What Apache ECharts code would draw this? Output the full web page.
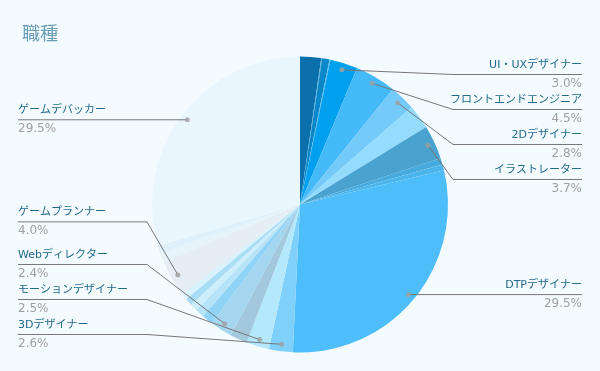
<!DOCTYPE html>
<html><head><meta charset="utf-8">
<script src="https://cdn.jsdelivr.net/npm/echarts@6/dist/echarts.min.js"></script>
<style>html,body{margin:0;padding:0;background:#f4fbff}#c{width:600px;height:371px}</style>
</head><body><div id="c"></div>
<script>
// ---- data ----
const categories = ['その他A','その他B','その他C','その他D','UI・UXデザイナー','フロントエンドエンジニア','2Dデザイナー','その他E','イラストレーター','その他F','その他G','DTPデザイナー','3Dデザイナー','モーションデザイナー','その他H','Webディレクター','その他I','その他J','その他K','その他L','その他M','ゲームプランナー','その他N','その他O','ゲームデバッカー'];
const values = [2.3,0.1,0.8,0.1,3.0,4.5,2.8,2.65,3.7,0.7,0.65,29.5,2.6,2.5,1.9,2.4,1.2,1.0,0.8,0.8,0.7,4.0,1.0,0.85,29.5];
const labeledCategories = ['UI・UXデザイナー','フロントエンドエンジニア','2Dデザイナー','イラストレーター','DTPデザイナー','3Dデザイナー','モーションデザイナー','Webディレクター','ゲームプランナー','ゲームデバッカー'];
const titleText = '職種';

// ---- style ----
const sliceColors = ['#0b70ab','#4fb0e0','#0a87c9','#55bcec','#00a0ee','#45baf8','#74cbfa','#93dcfd','#4aa2cf','#47abdf','#4cb5ec','#4dbef9','#7fd0fb','#b4e8fd','#a2c8dd','#a5d6f0','#8fd3f6','#b6e3f7','#cdeefc','#a9dcf5','#d9f3fe','#e5eef4','#e6f3fb','#dff0fa','#eaf6fe'];
const CX = 300, CY = 204.5, R = 148, LABEL_R = 141, KNEE = 153;
const VIEW_TOP = 57, VIEW_H = 295;

const chart = echarts.init(document.getElementById('c'), null, {renderer: 'canvas'});
const total = values.reduce((a, b) => a + b, 0);
let cum = 0;
const dots = [];
values.forEach((v, i) => {
  const mid = cum + v / 2;
  cum += v;
  if (labeledCategories.includes(categories[i])) dots.push([LABEL_R, mid]);
});

const baseData = categories.map((n, i) => ({name: n, value: values[i], itemStyle: {color: sliceColors[i]}}));
const labelData = categories.map((n, i) => {
  const on = labeledCategories.includes(n);
  return {name: n, value: values[i], label: {show: on}, labelLine: {show: on}};
});

chart.setOption({
  backgroundColor: '#f4fbff',
  animation: false,
  title: {
    text: titleText, left: 17, top: 19,
    textStyle: {fontSize: 18, fontWeight: 'normal', color: '#6a9db3', fontFamily: 'Noto Sans CJK JP'}
  },
  polar: {center: [CX, CY], radius: R},
  angleAxis: {type: 'value', min: 0, max: total, startAngle: 90, clockwise: true, show: false},
  radiusAxis: {type: 'value', min: 0, max: R, show: false},
  series: [
    {
      type: 'pie', left: 0, right: 0, top: VIEW_TOP, height: VIEW_H,
      center: ['50%', '50%'], radius: R, startAngle: 90, clockwise: true,
      silent: true, label: {show: false}, labelLine: {show: false},
      itemStyle: {borderWidth: 0},
      emphasis: {disabled: true},
      data: baseData
    },
    {
      type: 'pie', left: 0, right: 0, top: VIEW_TOP, height: VIEW_H,
      center: ['50%', '50%'], radius: LABEL_R, startAngle: 90, clockwise: true,
      silent: true, z: 3,
      itemStyle: {color: 'rgba(0,0,0,0)', borderWidth: 0},
      emphasis: {disabled: true},
      label: {
        show: true, position: 'outer', alignTo: 'edge', edgeDistance: 18, minMargin: 5,
        overflow: 'none',
        formatter: p => '{n|' + p.name + '}\n{v|' + p.value.toFixed(1) + '%}',
        rich: {
          n: {fontSize: 11, lineHeight: 18, color: '#22698a', fontFamily: 'DejaVu Sans, Noto Sans CJK JP'},
          v: {fontSize: 12, lineHeight: 19, color: '#a0a0a0', fontFamily: 'DejaVu Sans'}
        }
      },
      labelLine: {show: true, length: 0, length2: 10, smooth: false, lineStyle: {color: '#777', width: 1}},
      labelLayout: function (params) {
        const pts = params.labelLinePoints;
        if (!pts) return {};
        const isLeft = params.labelRect.x < chart.getWidth() / 2;
        const y = pts[2][1];
        const p = [
          pts[0].slice(),
          [isLeft ? CX - KNEE : CX + KNEE, y],
          [isLeft ? params.labelRect.x : params.labelRect.x + params.labelRect.width, y]
        ];
        return {labelLinePoints: p};
      },
      data: labelData
    },
    {
      type: 'scatter', coordinateSystem: 'polar', silent: true, z: 5,
      symbol: 'circle', symbolSize: 5, itemStyle: {color: '#a0a0a0'},
      data: dots
    }
  ]
});
</script></body></html>
